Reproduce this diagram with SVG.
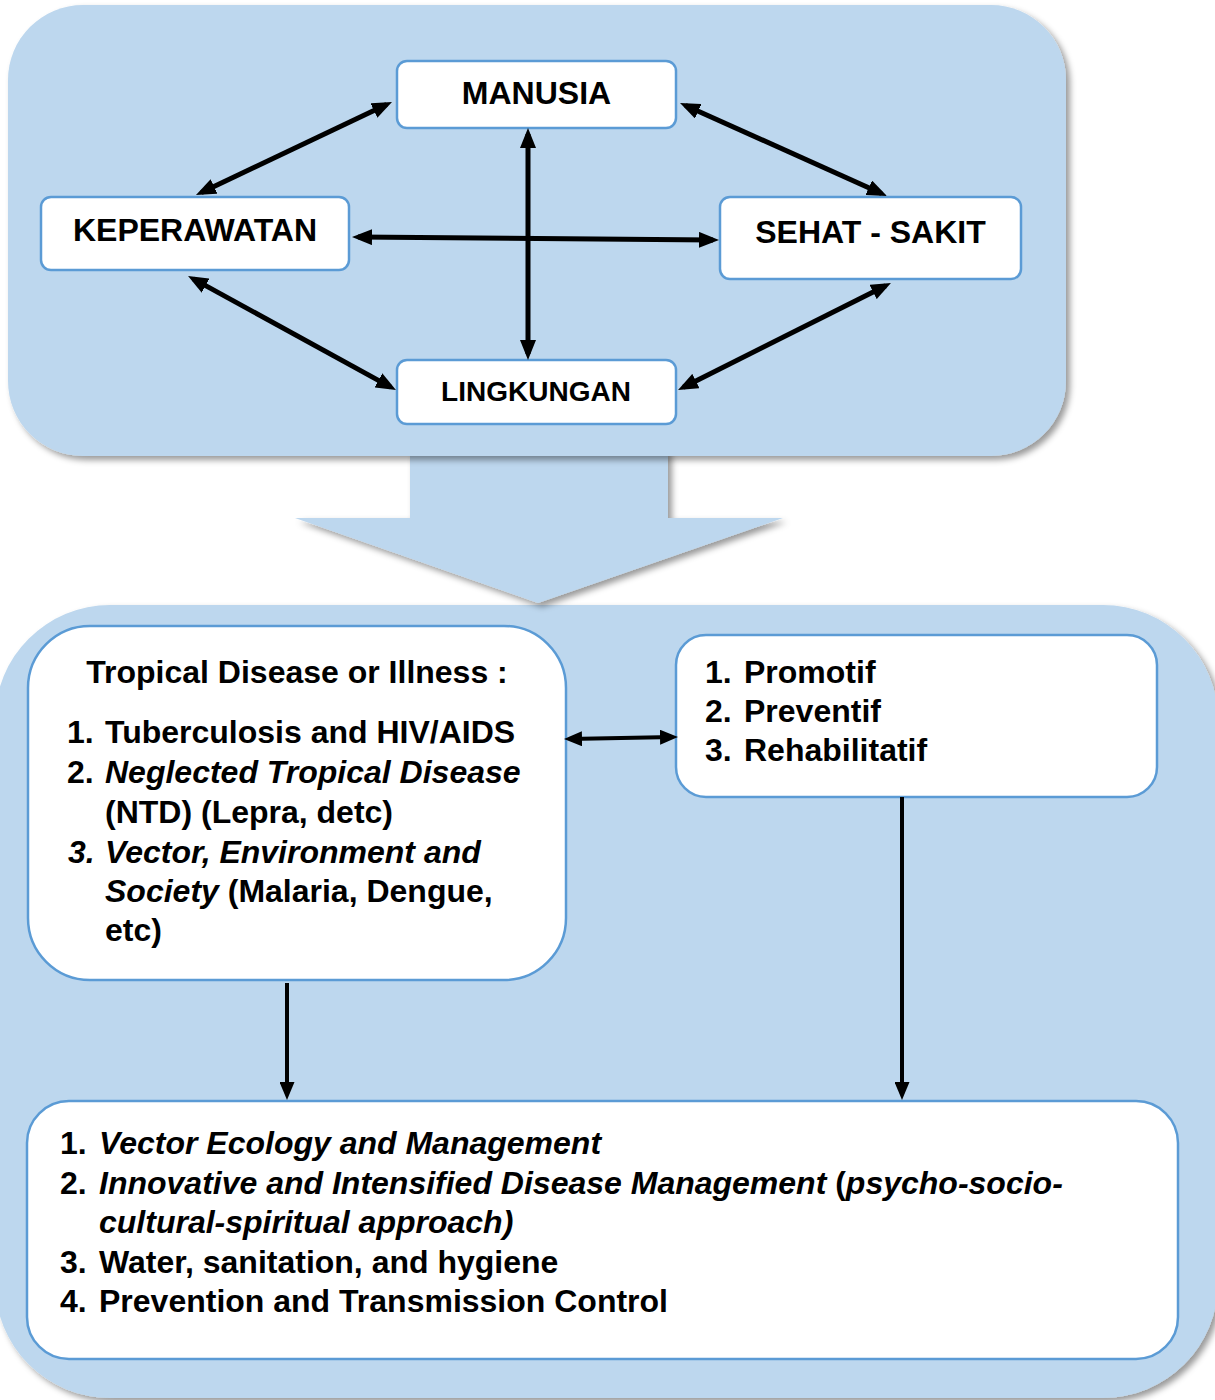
<svg xmlns="http://www.w3.org/2000/svg" width="1215" height="1400" viewBox="0 0 1215 1400">
<defs>
<filter id="sh" x="-10%" y="-10%" width="120%" height="120%">
<feDropShadow dx="4" dy="4" stdDeviation="3" flood-color="#000" flood-opacity="0.4"/>
</filter>
<marker id="ah" viewBox="0 0 20 16" refX="14" refY="8" markerWidth="20" markerHeight="16" markerUnits="userSpaceOnUse" orient="auto-start-reverse">
<path d="M0,0 L20,8 L0,16 z" fill="#000"/>
</marker>
<marker id="ah2" viewBox="0 0 18 15" refX="13" refY="7.5" markerWidth="18" markerHeight="15" markerUnits="userSpaceOnUse" orient="auto-start-reverse">
<path d="M0,0 L18,7.5 L0,15 z" fill="#000"/>
</marker>
</defs>
<style>
.panel{fill:#BDD7EE;filter:url(#sh)}
.node{fill:#fff;stroke:#5B9BD5;stroke-width:2.5}
.t{font-family:"Liberation Sans",Arial,sans-serif;font-weight:bold;fill:#000}
.big{font-size:32px}
.txt{font-size:32px}
.i{font-style:italic}
.c1{stroke:#000;stroke-width:5;fill:none;marker-start:url(#ah);marker-end:url(#ah)}
.c2{stroke:#000;stroke-width:4;fill:none}
</style>

<g id="bottom-panel"><rect class="panel" x="-5" y="605" width="1223" height="793" rx="115"/></g>
<g id="big-arrow"><polygon class="panel" points="410,450 668,450 668,518 783,518 538,603 295,518 410,518"/></g>
<g id="top-panel"><rect class="panel" x="8" y="5" width="1058" height="451" rx="75"/></g>

<g id="node-manusia"><rect class="node" x="397" y="61" width="279" height="67" rx="10"/><text class="t big" x="536.5" y="104" text-anchor="middle">MANUSIA</text></g>
<g id="node-keperawatan"><rect class="node" x="41" y="197" width="308" height="73" rx="10"/><text class="t big" x="195" y="241" text-anchor="middle">KEPERAWATAN</text></g>
<g id="node-sehat"><rect class="node" x="720" y="197" width="301" height="82" rx="10"/><text class="t big" x="870.5" y="243" text-anchor="middle">SEHAT - SAKIT</text></g>
<g id="node-lingkungan"><rect class="node" x="397" y="360" width="279" height="64" rx="10"/><text class="t" x="536" y="401" text-anchor="middle" font-size="28">LINGKUNGAN</text></g>

<g id="node-tropical"><rect class="node" x="28" y="626" width="538" height="354" rx="62"/>
<text class="t txt" x="297" y="683" text-anchor="middle">Tropical Disease or Illness :</text>
<text class="t txt" x="67" y="743">1.</text><text class="t txt" x="105" y="743">Tuberculosis and HIV/AIDS</text>
<text class="t txt" x="67" y="783">2.</text><text class="t txt i" x="105" y="783">Neglected Tropical Disease</text>
<text class="t txt" x="105" y="823">(NTD) (Lepra, detc)</text>
<text class="t txt i" x="68" y="863">3.</text><text class="t txt i" x="105" y="863">Vector, Environment and</text>
<text class="t txt" x="105" y="902"><tspan class="i">Society</tspan> (Malaria, Dengue,</text>
<text class="t txt" x="105" y="941">etc)</text>
</g>

<g id="node-promotif"><rect class="node" x="676" y="635" width="481" height="162" rx="30"/>
<text class="t txt" x="705" y="683">1.</text><text class="t txt" x="744" y="683">Promotif</text>
<text class="t txt" x="705" y="722">2.</text><text class="t txt" x="744" y="722">Preventif</text>
<text class="t txt" x="705" y="761">3.</text><text class="t txt" x="744" y="761">Rehabilitatif</text>
</g>

<g id="node-actions"><rect class="node" x="27" y="1101" width="1151" height="258" rx="42"/>
<text class="t txt" x="60" y="1154">1.</text><text class="t txt i" x="99" y="1154">Vector Ecology and Management</text>
<text class="t txt" x="60" y="1194">2.</text><text class="t txt" x="99" y="1194"><tspan class="i">Innovative and Intensified Disease Management</tspan> (<tspan class="i">psycho-socio-</tspan></text>
<text class="t txt i" x="99" y="1233">cultural-spiritual approach)</text>
<text class="t txt" x="60" y="1273">3.</text><text class="t txt" x="99" y="1273">Water, sanitation, and hygiene</text>
<text class="t txt" x="60" y="1312">4.</text><text class="t txt" x="99" y="1312">Prevention and Transmission Control</text>
</g>

<g id="connectors">
<line class="c1" x1="386.6" y1="104.6" x2="201.4" y2="192.4"/>
<line class="c1" x1="685.5" y1="105.5" x2="881.5" y2="193.5"/>
<line class="c1" x1="358" y1="237" x2="713" y2="240"/>
<line class="c1" x1="528" y1="134" x2="528" y2="354"/>
<line class="c1" x1="193.3" y1="278.9" x2="390.7" y2="387.1"/>
<line class="c1" x1="885.6" y1="285.7" x2="683.4" y2="387.3"/>
<line class="c2" x1="569" y1="739" x2="673" y2="737" marker-start="url(#ah2)" marker-end="url(#ah2)"/>
<line class="c2" x1="287" y1="983" x2="287" y2="1095" marker-end="url(#ah2)"/>
<line class="c2" x1="902" y1="797" x2="902" y2="1095" marker-end="url(#ah2)"/>
</g>
</svg>
